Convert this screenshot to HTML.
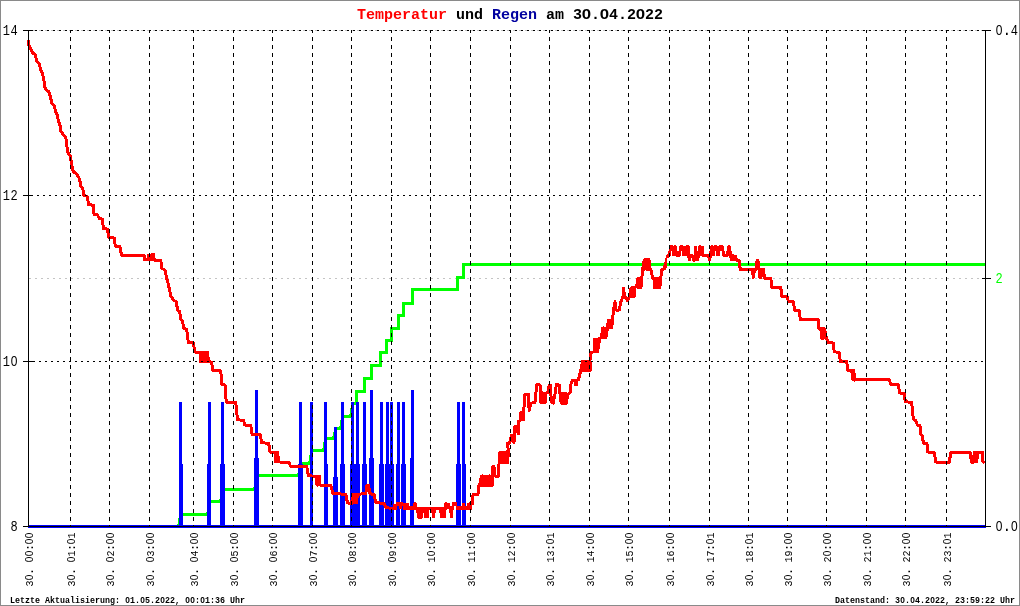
<!DOCTYPE html>
<html><head><meta charset="utf-8"><title>Temperatur und Regen am 30.04.2022</title>
<style>
html,body{margin:0;padding:0;background:#fff;}
body{width:1020px;height:606px;overflow:hidden;position:relative;font-family:"Liberation Mono",monospace;}
#chart{position:absolute;left:0;top:0;width:1020px;height:606px;box-sizing:border-box;border:1px solid #8a8a8a;background:#fff;}
svg{position:absolute;left:0;top:0;}
text{font-family:"Liberation Mono",monospace;}
svg,.title,.foot{will-change:transform;}
.title{position:absolute;left:357px;top:4px;width:306px;font:bold 15px/20px "Liberation Mono",monospace;white-space:pre;color:#000;letter-spacing:0;}
.foot{position:absolute;top:594px;font:bold 8.33px/10px "Liberation Mono",monospace;white-space:pre;color:#000;transform-origin:0 0;transform:scaleY(1.15);}
.z{font-family:"Liberation Sans",sans-serif;display:inline-block;text-align:center;}
.title .z{width:9px;transform:scaleX(1.12);}
.foot .z{width:5px;}
</style></head><body>
<div id="chart"></div>
<svg width="1020" height="606" viewBox="0 0 1020 606">
<g shape-rendering="crispEdges" fill="none">
<line x1="29" y1="278.5" x2="982" y2="278.5" stroke="#c4c4c4" stroke-width="1" stroke-dasharray="2 4" stroke-dashoffset="0"/>
<line x1="29" y1="30.5" x2="985" y2="30.5" stroke="#c4c4c4" stroke-width="1" stroke-dasharray="2 4" stroke-dashoffset="-4"/>
</g>
<polyline points="28,526.5 178.5,526.5 179.7,521.1 180.5,514.5 207.5,514.5 208.7,508.65 209.5,501.5 220.5,501.5 221.7,496.1 222.5,489.5 254.5,489.5 255.7,483.2 256.5,475.5 298.5,475.5 299.7,470.1 300.5,463.5 309.5,463.5 310.7,457.65 311.5,450.5 323.5,450.5 324.7,445.1 325.5,438.5 333.5,438.5 334.7,434 335.5,428.5 340.5,428.5 341.7,423.1 342.5,416.5 350.5,416.5 351.7,410.65 352.5,403.5 356,403.5 356,391.2 364.2,391.2 364.2,378 371,378 371,365 380.8,365 380.8,352.5 386.7,352.5 386.7,340.3 391.7,340.3 391.7,328 398,328 398,315.3 403,315.3 403,303.3 412,303.3 412,289.5 457.5,289.5 457.5,277.5 463.7,277.5 463.7,264.5 985,264.5" fill="none" stroke="#00ff00" stroke-width="3" stroke-linejoin="miter" shape-rendering="crispEdges"/>
<g fill="#0000ff" shape-rendering="crispEdges">
<rect x="28" y="525" width="958" height="3"/>
<rect x="179" y="402" width="3" height="124"/>
<rect x="179" y="464" width="4" height="62"/>
<rect x="208" y="402" width="3" height="124"/>
<rect x="207" y="464" width="4" height="62"/>
<rect x="221" y="402" width="3" height="124"/>
<rect x="220" y="464" width="5" height="62"/>
<rect x="255" y="390" width="3" height="136"/>
<rect x="254" y="458" width="5" height="68"/>
<rect x="299" y="402" width="3" height="124"/>
<rect x="298" y="464" width="5" height="62"/>
<rect x="310" y="402" width="3" height="124"/>
<rect x="310" y="464" width="3" height="62"/>
<rect x="324" y="402" width="3" height="124"/>
<rect x="324" y="464" width="4" height="62"/>
<rect x="334" y="427" width="3" height="99"/>
<rect x="333" y="477" width="5" height="49"/>
<rect x="341" y="402" width="3" height="124"/>
<rect x="340" y="464" width="5" height="62"/>
<rect x="351" y="402" width="3" height="124"/>
<rect x="350" y="464" width="5" height="62"/>
<rect x="356" y="402" width="3" height="124"/>
<rect x="355" y="464" width="5" height="62"/>
<rect x="363" y="402" width="3" height="124"/>
<rect x="362" y="464" width="5" height="62"/>
<rect x="370" y="390" width="3" height="136"/>
<rect x="369" y="458" width="5" height="68"/>
<rect x="380" y="402" width="3" height="124"/>
<rect x="379" y="464" width="5" height="62"/>
<rect x="386" y="402" width="3" height="124"/>
<rect x="385" y="464" width="5" height="62"/>
<rect x="390" y="402" width="3" height="124"/>
<rect x="389" y="464" width="5" height="62"/>
<rect x="397" y="402" width="3" height="124"/>
<rect x="396" y="464" width="4" height="62"/>
<rect x="402" y="402" width="3" height="124"/>
<rect x="401" y="464" width="5" height="62"/>
<rect x="411" y="390" width="3" height="136"/>
<rect x="410" y="458" width="4" height="68"/>
<rect x="457" y="402" width="3" height="124"/>
<rect x="456" y="464" width="5" height="62"/>
<rect x="462" y="402" width="3" height="124"/>
<rect x="462" y="464" width="4" height="62"/>
</g>
<polyline points="28,40 28.3,44.5 30.3,48.3 32.5,52.5 35.3,55 36.7,60.8 39.2,63.7 40.8,70 42.5,73.3 43.8,80 45.3,89.2 48.7,91.7 50.5,96.7 51.7,103.3 54.5,106.3 55.5,111.7 57.5,115 58.3,121.7 59.7,123.3 60.8,130.8 63.3,135 65.8,137.5 66.7,145 68.3,154.2 70.3,155.8 71.7,165 73.3,171.7 76.7,174.2 79.7,179.2 80.8,186.7 82.8,188.3 83.7,195 87.5,196.7 88.5,204.5 93.3,205.3 94,214.3 97.5,215 99.2,218.5 102.5,219.2 103.3,228.3 107.5,229.2 108.7,237.5 114.2,238 115.3,246 120,246.7 121.5,255.3 144.2,255.3 144.5,259.5 148,259.5 148.5,255.3 150,255.3 150.3,259.5 151.5,259.5 152,254.5 153.5,254.5 154.2,260 160.8,260.3 161.7,268.3 165,270 166.7,278.3 168,283 169.2,288.3 170.8,295.8 173.3,300 176.3,301.7 177.5,310 179.7,311.7 180.8,319.2 182.5,320.8 183.8,328.3 186.7,329.2 188.3,342.5 193.3,343 195,352 200,352.5 200.5,361.5 201.5,352.5 202.5,361.5 203.5,352.5 204.5,361.5 205.5,352.5 206.5,361.5 207.5,352.5 208.5,361.5 210,361.7 211.7,362.5 212.8,370.3 220.8,370.8 221.7,384.2 225,385 226.2,402 235.8,402.5 237.5,419.7 243.7,420.5 244.7,425 250.8,425.3 252,434.2 260.3,434.7 261.7,442.8 268.7,443.3 270,452 275,452.5 275.5,462 276.25,452.5 277,462 277.75,452.5 278.5,462 279.2,462 289,462.3 290.5,466.3 306.7,466.7 308.5,475.8 315.8,476.3 317,485 318,485 318.5,476.3 319.5,476.3 320,485 330.8,485.3 333,493.7 345.8,494.2 347.5,503 351.7,503.3 352.5,494.5 353.3,503 354.1,494.5 354.9,503 355.7,494.5 356.5,503 357.5,494.2 365.8,493.7 367,485.5 368.5,485.5 370,493.7 374.2,494.5 375.8,502.7 384.2,503.3 385.8,507.7 390.8,508.2 392,508.2" fill="none" stroke="#ff0000" stroke-width="3" stroke-linejoin="round" shape-rendering="crispEdges"/>
<polyline points="472.5,499 473.2,494.3 478,494.3 479,484.7 480.5,484.7 481.2,476 481.5,485.4 482.4,476 483.3,485.4 484.2,476 485.1,485.4 486,476 486.9,485.4 487.8,476 488.7,485.4 489.6,476 490.5,485.4 491.4,476 492.3,485.4 492.8,466.7 494,466.7 494.6,476 498.5,476 499.2,459.4 500,452 500.3,462.7 501.2,452 502.1,462.7 503,452 503.9,462.7 504.8,452 505.7,462.7 506.6,452 507.5,462.7 508.4,452 507.5,443.3 509.5,443.3 511.7,435 513,435 514,443 514.7,426.7 516.5,426.7 518.3,434 518.3,421.7 520.8,420 520.8,412.5 523.3,412.5 523.3,420 524.2,403.3 525,394.2 528.3,394.2 529.2,410.8 530.8,403.3 535,402.5 535.8,394.2 536.7,384.5 540,385 540.8,402.5 541,393 541.8,403 542.6,393 543.4,403 544.2,393 545,403 545.8,393.3 548.3,392.5 549.2,385 550.5,385 551.3,401.7 553.3,403 555,394 556.3,384.5 559.2,385 560.8,401.7 561,393.3 561.8,403.3 562.6,393.3 563.4,403.3 564.2,393.3 565,403.3 565.8,393.3 566.6,403.3 567.5,394.2 570,393 570.8,385 572,380.8 575,380 575.5,384.5 576.5,384.5 577,380 578.3,380 579.7,375 580.8,370 582.5,361.7 582.8,370.8 583.7,361.7 584.6,370.8 585.5,361.7 586.4,370.8 587.3,361.7 588.2,370.8 589.1,361.7 590,370.8 590,360.8 590.3,352.5 594.2,351.7 594.7,339.2 595,351.7 595.7,339.2 596.4,351.7 597.1,339.2 597.5,351.7 599.7,338.3 601.7,336.7 602.5,328.3 602.8,337.5 603.6,328 604.4,337.5 605.2,328 606,337.5 607.5,327.5 608.3,320 608.5,328 609.3,320 610.1,328 610.9,320 611.7,328 612.5,320 613.3,311.7 615,301.7 615.8,310 619.2,310 620.8,301.7 623,296.7 623.3,288 625,296.7 627.5,300.8 630,295 630.8,288.3 631,296.7 631.8,287.5 632.6,296.7 633.4,287.5 634.2,296.7 635,287.5 636.7,286.7 637.5,279.2 637.8,287.5 638.6,278.3 639.4,287.5 640.2,278.3 641,287.5 641.8,278.3 642.5,270 644.2,260 644.5,269.2 645.4,259.7 646.3,269.2 647.2,259.7 648.1,269.2 649,259.7 649.9,269.2 650.8,269.2 652.5,277.5 654.2,279.2 654.5,287.5 655.4,278.3 656.3,287.5 657.2,278.3 658.1,287.5 659,278.3 659.9,287.5 660.8,278.3 661.7,270 664.5,268.5 665.5,262" fill="none" stroke="#ff0000" stroke-width="3" stroke-linejoin="round" shape-rendering="crispEdges"/>
<polyline points="739.5,262 740.3,269.2 752.5,269.7 753.3,277.5 754.5,269.5 756,269.5 757,260.8 758,260.8 759.2,269.2 760,277.5 761,277.5 761.7,269.2 763.3,269.2 764.7,278.3 770.8,278.7 772,287.5 780.8,287.5 781.7,296.3 787,296.7 788.3,301.2 793.3,301.7 794.7,310.3 799.2,310.8 800.3,319.5 818.3,319.5 818.7,328.3 820.8,328.3 821.8,338.3 822.6,328.3 823.4,338.3 824.2,328.3 826.7,338.7 828.3,342.5 833.3,343 834.2,351.7 839.2,352.5 840.3,361.3 846.7,361.3 847.8,370.3 851.7,370.3 853,380 853.8,370.3 854.6,380 855.8,379.5 889.2,379.5 890.8,384.5 898.3,384.7 899.7,393 904.2,393.3 905.3,401.7 911.7,402.5 913.3,419.2 915.8,420.8 917.5,425 920,425.8 920.8,434.2 922.5,435.8 923.3,443 927,443.7 927.5,452 934.2,452.5 935.8,462 949.2,462.5 950.8,452.5 970,452.5 971.7,462.5 973.5,462 974.2,452.5 975,452.5 975.8,461.7 976.8,461.7 977.5,452.5 982.5,452.5 982.8,461.7 984.7,462.5" fill="none" stroke="#ff0000" stroke-width="3" stroke-linejoin="round" shape-rendering="crispEdges"/>
<g fill="#ff0000" shape-rendering="crispEdges">
<rect x="390" y="507" width="4" height="3"/>
<rect x="393" y="504" width="3" height="6"/>
<rect x="396" y="502" width="1" height="8"/>
<rect x="397" y="502" width="2" height="4"/>
<rect x="399" y="502" width="3" height="7"/>
<rect x="402" y="502" width="1" height="4"/>
<rect x="403" y="503" width="6" height="7"/>
<rect x="409" y="506" width="4" height="4"/>
<rect x="413" y="503" width="1" height="7"/>
<rect x="414" y="502" width="2" height="8"/>
<rect x="416" y="503" width="1" height="7"/>
<rect x="417" y="507" width="29" height="3"/>
<rect x="416" y="507" width="1" height="6"/>
<rect x="417" y="507" width="6" height="11"/>
<rect x="418" y="507" width="4" height="12"/>
<rect x="423" y="507" width="1" height="6"/>
<rect x="424" y="507" width="5" height="11"/>
<rect x="431" y="507" width="1" height="6"/>
<rect x="432" y="507" width="3" height="11"/>
<rect x="435" y="507" width="1" height="6"/>
<rect x="439" y="507" width="1" height="6"/>
<rect x="440" y="507" width="6" height="11"/>
<rect x="444" y="503" width="1" height="7"/>
<rect x="445" y="502" width="2" height="8"/>
<rect x="447" y="503" width="3" height="6"/>
<rect x="449" y="507" width="1" height="6"/>
<rect x="450" y="506" width="3" height="12"/>
<rect x="452" y="502" width="5" height="4"/>
<rect x="452" y="502" width="2" height="8"/>
<rect x="456" y="506" width="16" height="4"/>
<rect x="462" y="503" width="3" height="7"/>
<rect x="467" y="503" width="2" height="7"/>
<rect x="469" y="502" width="3" height="8"/>
<rect x="471" y="498" width="3" height="7"/>
<rect x="665" y="258" width="1" height="12"/>
<rect x="666" y="255" width="1" height="13"/>
<rect x="667" y="254" width="1" height="4"/>
<rect x="668" y="251" width="1" height="7"/>
<rect x="669" y="249" width="1" height="8"/>
<rect x="670" y="245" width="1" height="11"/>
<rect x="671" y="245" width="1" height="6"/>
<rect x="672" y="245" width="1" height="11"/>
<rect x="673" y="246" width="1" height="10"/>
<rect x="674" y="245" width="1" height="11"/>
<rect x="675" y="245" width="1" height="11"/>
<rect x="676" y="246" width="1" height="11"/>
<rect x="677" y="251" width="1" height="6"/>
<rect x="678" y="251" width="1" height="6"/>
<rect x="679" y="246" width="1" height="11"/>
<rect x="680" y="245" width="1" height="11"/>
<rect x="681" y="245" width="1" height="6"/>
<rect x="682" y="245" width="1" height="11"/>
<rect x="683" y="246" width="1" height="10"/>
<rect x="684" y="246" width="1" height="10"/>
<rect x="685" y="246" width="1" height="10"/>
<rect x="686" y="245" width="1" height="11"/>
<rect x="687" y="245" width="1" height="13"/>
<rect x="688" y="245" width="1" height="16"/>
<rect x="689" y="246" width="1" height="15"/>
<rect x="690" y="254" width="1" height="7"/>
<rect x="691" y="254" width="1" height="4"/>
<rect x="692" y="254" width="1" height="7"/>
<rect x="693" y="255" width="1" height="7"/>
<rect x="694" y="246" width="1" height="16"/>
<rect x="695" y="246" width="1" height="15"/>
<rect x="696" y="246" width="1" height="15"/>
<rect x="697" y="251" width="1" height="10"/>
<rect x="698" y="246" width="1" height="15"/>
<rect x="699" y="245" width="1" height="13"/>
<rect x="700" y="245" width="1" height="11"/>
<rect x="701" y="246" width="1" height="10"/>
<rect x="702" y="246" width="1" height="11"/>
<rect x="703" y="246" width="1" height="11"/>
<rect x="704" y="254" width="1" height="3"/>
<rect x="705" y="254" width="1" height="3"/>
<rect x="706" y="254" width="1" height="3"/>
<rect x="707" y="254" width="1" height="4"/>
<rect x="708" y="254" width="1" height="7"/>
<rect x="709" y="251" width="1" height="10"/>
<rect x="710" y="246" width="1" height="15"/>
<rect x="711" y="245" width="1" height="13"/>
<rect x="712" y="245" width="1" height="11"/>
<rect x="713" y="246" width="1" height="10"/>
<rect x="714" y="245" width="1" height="11"/>
<rect x="715" y="245" width="1" height="6"/>
<rect x="716" y="245" width="1" height="11"/>
<rect x="717" y="246" width="1" height="10"/>
<rect x="718" y="246" width="1" height="10"/>
<rect x="719" y="245" width="1" height="11"/>
<rect x="720" y="245" width="1" height="6"/>
<rect x="721" y="245" width="1" height="6"/>
<rect x="722" y="245" width="1" height="11"/>
<rect x="723" y="246" width="1" height="11"/>
<rect x="724" y="251" width="1" height="6"/>
<rect x="725" y="254" width="1" height="3"/>
<rect x="726" y="251" width="1" height="6"/>
<rect x="727" y="246" width="1" height="11"/>
<rect x="728" y="245" width="1" height="11"/>
<rect x="729" y="245" width="1" height="13"/>
<rect x="730" y="246" width="1" height="15"/>
<rect x="731" y="251" width="1" height="10"/>
<rect x="732" y="254" width="1" height="7"/>
<rect x="733" y="254" width="1" height="7"/>
<rect x="734" y="255" width="1" height="6"/>
<rect x="735" y="255" width="1" height="6"/>
<rect x="736" y="255" width="1" height="7"/>
<rect x="737" y="258" width="1" height="4"/>
<rect x="738" y="259" width="1" height="9"/>
<rect x="739" y="259" width="1" height="12"/>
<rect x="740" y="260" width="1" height="11"/>
</g>
<g shape-rendering="crispEdges" fill="none" stroke="#000" stroke-width="1">
<line x1="70.5" y1="30" x2="70.5" y2="526" stroke-dasharray="4 4" stroke-dashoffset="1"/>
<line x1="109.5" y1="30" x2="109.5" y2="526" stroke-dasharray="4 4" stroke-dashoffset="1"/>
<line x1="149.5" y1="30" x2="149.5" y2="526" stroke-dasharray="4 4" stroke-dashoffset="1"/>
<line x1="193.5" y1="30" x2="193.5" y2="526" stroke-dasharray="4 4" stroke-dashoffset="1"/>
<line x1="233.5" y1="30" x2="233.5" y2="526" stroke-dasharray="4 4" stroke-dashoffset="1"/>
<line x1="272.5" y1="30" x2="272.5" y2="526" stroke-dasharray="4 4" stroke-dashoffset="1"/>
<line x1="312.5" y1="30" x2="312.5" y2="526" stroke-dasharray="4 4" stroke-dashoffset="1"/>
<line x1="351.5" y1="30" x2="351.5" y2="526" stroke-dasharray="4 4" stroke-dashoffset="1"/>
<line x1="391.5" y1="30" x2="391.5" y2="526" stroke-dasharray="4 4" stroke-dashoffset="1"/>
<line x1="430.5" y1="30" x2="430.5" y2="526" stroke-dasharray="4 4" stroke-dashoffset="1"/>
<line x1="470.5" y1="30" x2="470.5" y2="526" stroke-dasharray="4 4" stroke-dashoffset="1"/>
<line x1="510.5" y1="30" x2="510.5" y2="526" stroke-dasharray="4 4" stroke-dashoffset="1"/>
<line x1="549.5" y1="30" x2="549.5" y2="526" stroke-dasharray="4 4" stroke-dashoffset="1"/>
<line x1="589.5" y1="30" x2="589.5" y2="526" stroke-dasharray="4 4" stroke-dashoffset="1"/>
<line x1="628.5" y1="30" x2="628.5" y2="526" stroke-dasharray="4 4" stroke-dashoffset="1"/>
<line x1="669.5" y1="30" x2="669.5" y2="526" stroke-dasharray="4 4" stroke-dashoffset="1"/>
<line x1="709.5" y1="30" x2="709.5" y2="526" stroke-dasharray="4 4" stroke-dashoffset="1"/>
<line x1="748.5" y1="30" x2="748.5" y2="526" stroke-dasharray="4 4" stroke-dashoffset="1"/>
<line x1="787.5" y1="30" x2="787.5" y2="526" stroke-dasharray="4 4" stroke-dashoffset="1"/>
<line x1="826.5" y1="30" x2="826.5" y2="526" stroke-dasharray="4 4" stroke-dashoffset="1"/>
<line x1="866.5" y1="30" x2="866.5" y2="526" stroke-dasharray="4 4" stroke-dashoffset="1"/>
<line x1="905.5" y1="30" x2="905.5" y2="526" stroke-dasharray="4 4" stroke-dashoffset="1"/>
<line x1="946.5" y1="30" x2="946.5" y2="526" stroke-dasharray="4 4" stroke-dashoffset="1"/>
<line x1="29" y1="30.5" x2="985" y2="30.5" stroke-dasharray="2 4" stroke-dashoffset="0"/>
<line x1="29" y1="195.5" x2="985" y2="195.5" stroke-dasharray="2 4" stroke-dashoffset="-2"/>
<line x1="29" y1="361.5" x2="985" y2="361.5" stroke-dasharray="2 4" stroke-dashoffset="-4"/>
<line x1="28.5" y1="30" x2="28.5" y2="527"/>
<line x1="985.5" y1="30" x2="985.5" y2="527"/>
<line x1="28" y1="526.5" x2="986" y2="526.5"/>
<line x1="23" y1="30.5" x2="33" y2="30.5"/>
<line x1="23" y1="195.5" x2="33" y2="195.5"/>
<line x1="23" y1="361.5" x2="33" y2="361.5"/>
<line x1="23" y1="526.5" x2="33" y2="526.5"/>
<line x1="982" y1="30.5" x2="991" y2="30.5"/>
<line x1="982" y1="278.5" x2="991" y2="278.5"/>
<line x1="982" y1="526.5" x2="991" y2="526.5"/>
</g>
<text transform="translate(17.9,35) scale(1,1.26)" font-size="12" text-anchor="middle" fill="#000"><tspan x="-11.55">1</tspan><tspan x="-3.85">4</tspan></text>
<text transform="translate(17.9,200) scale(1,1.26)" font-size="12" text-anchor="middle" fill="#000"><tspan x="-11.55">1</tspan><tspan x="-3.85">2</tspan></text>
<text transform="translate(17.9,366) scale(1,1.26)" font-size="12" text-anchor="middle" fill="#000"><tspan x="-11.55">1</tspan><tspan x="-3.85" font-family="Liberation Sans">0</tspan></text>
<text transform="translate(17.9,531) scale(1,1.26)" font-size="12" text-anchor="middle" fill="#000"><tspan x="-3.85">8</tspan></text>
<text transform="translate(995.2,35) scale(1,1.26)" font-size="12" text-anchor="middle" fill="#000"><tspan x="3.85" font-family="Liberation Sans">0</tspan><tspan x="11.55" font-weight="bold">.</tspan><tspan x="19.25">4</tspan></text>
<text transform="translate(995.2,531) scale(1,1.26)" font-size="12" text-anchor="middle" fill="#000"><tspan x="3.85" font-family="Liberation Sans">0</tspan><tspan x="11.55" font-weight="bold">.</tspan><tspan x="19.25" font-family="Liberation Sans">0</tspan></text>
<text transform="translate(995.2,283) scale(1,1.26)" font-size="12" text-anchor="middle" fill="#00ff00"><tspan x="3.85">2</tspan></text>
<text transform="translate(33,586.5) rotate(-90) scale(1,1.1)" font-size="10" text-anchor="middle" fill="#000"><tspan x="3">3</tspan><tspan x="9" font-family="Liberation Sans">0</tspan><tspan x="15" font-weight="bold">.</tspan><tspan x="27" font-family="Liberation Sans">0</tspan><tspan x="33" font-family="Liberation Sans">0</tspan><tspan x="39" font-weight="bold">:</tspan><tspan x="45" font-family="Liberation Sans">0</tspan><tspan x="51" font-family="Liberation Sans">0</tspan></text>
<text transform="translate(75,586.5) rotate(-90) scale(1,1.1)" font-size="10" text-anchor="middle" fill="#000"><tspan x="3">3</tspan><tspan x="9" font-family="Liberation Sans">0</tspan><tspan x="15" font-weight="bold">.</tspan><tspan x="27" font-family="Liberation Sans">0</tspan><tspan x="33">1</tspan><tspan x="39" font-weight="bold">:</tspan><tspan x="45" font-family="Liberation Sans">0</tspan><tspan x="51">1</tspan></text>
<text transform="translate(114,586.5) rotate(-90) scale(1,1.1)" font-size="10" text-anchor="middle" fill="#000"><tspan x="3">3</tspan><tspan x="9" font-family="Liberation Sans">0</tspan><tspan x="15" font-weight="bold">.</tspan><tspan x="27" font-family="Liberation Sans">0</tspan><tspan x="33">2</tspan><tspan x="39" font-weight="bold">:</tspan><tspan x="45" font-family="Liberation Sans">0</tspan><tspan x="51" font-family="Liberation Sans">0</tspan></text>
<text transform="translate(154,586.5) rotate(-90) scale(1,1.1)" font-size="10" text-anchor="middle" fill="#000"><tspan x="3">3</tspan><tspan x="9" font-family="Liberation Sans">0</tspan><tspan x="15" font-weight="bold">.</tspan><tspan x="27" font-family="Liberation Sans">0</tspan><tspan x="33">3</tspan><tspan x="39" font-weight="bold">:</tspan><tspan x="45" font-family="Liberation Sans">0</tspan><tspan x="51" font-family="Liberation Sans">0</tspan></text>
<text transform="translate(198,586.5) rotate(-90) scale(1,1.1)" font-size="10" text-anchor="middle" fill="#000"><tspan x="3">3</tspan><tspan x="9" font-family="Liberation Sans">0</tspan><tspan x="15" font-weight="bold">.</tspan><tspan x="27" font-family="Liberation Sans">0</tspan><tspan x="33">4</tspan><tspan x="39" font-weight="bold">:</tspan><tspan x="45" font-family="Liberation Sans">0</tspan><tspan x="51" font-family="Liberation Sans">0</tspan></text>
<text transform="translate(238,586.5) rotate(-90) scale(1,1.1)" font-size="10" text-anchor="middle" fill="#000"><tspan x="3">3</tspan><tspan x="9" font-family="Liberation Sans">0</tspan><tspan x="15" font-weight="bold">.</tspan><tspan x="27" font-family="Liberation Sans">0</tspan><tspan x="33">5</tspan><tspan x="39" font-weight="bold">:</tspan><tspan x="45" font-family="Liberation Sans">0</tspan><tspan x="51" font-family="Liberation Sans">0</tspan></text>
<text transform="translate(277,586.5) rotate(-90) scale(1,1.1)" font-size="10" text-anchor="middle" fill="#000"><tspan x="3">3</tspan><tspan x="9" font-family="Liberation Sans">0</tspan><tspan x="15" font-weight="bold">.</tspan><tspan x="27" font-family="Liberation Sans">0</tspan><tspan x="33">6</tspan><tspan x="39" font-weight="bold">:</tspan><tspan x="45" font-family="Liberation Sans">0</tspan><tspan x="51" font-family="Liberation Sans">0</tspan></text>
<text transform="translate(317,586.5) rotate(-90) scale(1,1.1)" font-size="10" text-anchor="middle" fill="#000"><tspan x="3">3</tspan><tspan x="9" font-family="Liberation Sans">0</tspan><tspan x="15" font-weight="bold">.</tspan><tspan x="27" font-family="Liberation Sans">0</tspan><tspan x="33">7</tspan><tspan x="39" font-weight="bold">:</tspan><tspan x="45" font-family="Liberation Sans">0</tspan><tspan x="51" font-family="Liberation Sans">0</tspan></text>
<text transform="translate(356,586.5) rotate(-90) scale(1,1.1)" font-size="10" text-anchor="middle" fill="#000"><tspan x="3">3</tspan><tspan x="9" font-family="Liberation Sans">0</tspan><tspan x="15" font-weight="bold">.</tspan><tspan x="27" font-family="Liberation Sans">0</tspan><tspan x="33">8</tspan><tspan x="39" font-weight="bold">:</tspan><tspan x="45" font-family="Liberation Sans">0</tspan><tspan x="51" font-family="Liberation Sans">0</tspan></text>
<text transform="translate(396,586.5) rotate(-90) scale(1,1.1)" font-size="10" text-anchor="middle" fill="#000"><tspan x="3">3</tspan><tspan x="9" font-family="Liberation Sans">0</tspan><tspan x="15" font-weight="bold">.</tspan><tspan x="27" font-family="Liberation Sans">0</tspan><tspan x="33">9</tspan><tspan x="39" font-weight="bold">:</tspan><tspan x="45" font-family="Liberation Sans">0</tspan><tspan x="51" font-family="Liberation Sans">0</tspan></text>
<text transform="translate(435,586.5) rotate(-90) scale(1,1.1)" font-size="10" text-anchor="middle" fill="#000"><tspan x="3">3</tspan><tspan x="9" font-family="Liberation Sans">0</tspan><tspan x="15" font-weight="bold">.</tspan><tspan x="27">1</tspan><tspan x="33" font-family="Liberation Sans">0</tspan><tspan x="39" font-weight="bold">:</tspan><tspan x="45" font-family="Liberation Sans">0</tspan><tspan x="51" font-family="Liberation Sans">0</tspan></text>
<text transform="translate(475,586.5) rotate(-90) scale(1,1.1)" font-size="10" text-anchor="middle" fill="#000"><tspan x="3">3</tspan><tspan x="9" font-family="Liberation Sans">0</tspan><tspan x="15" font-weight="bold">.</tspan><tspan x="27">1</tspan><tspan x="33">1</tspan><tspan x="39" font-weight="bold">:</tspan><tspan x="45" font-family="Liberation Sans">0</tspan><tspan x="51" font-family="Liberation Sans">0</tspan></text>
<text transform="translate(515,586.5) rotate(-90) scale(1,1.1)" font-size="10" text-anchor="middle" fill="#000"><tspan x="3">3</tspan><tspan x="9" font-family="Liberation Sans">0</tspan><tspan x="15" font-weight="bold">.</tspan><tspan x="27">1</tspan><tspan x="33">2</tspan><tspan x="39" font-weight="bold">:</tspan><tspan x="45" font-family="Liberation Sans">0</tspan><tspan x="51" font-family="Liberation Sans">0</tspan></text>
<text transform="translate(554,586.5) rotate(-90) scale(1,1.1)" font-size="10" text-anchor="middle" fill="#000"><tspan x="3">3</tspan><tspan x="9" font-family="Liberation Sans">0</tspan><tspan x="15" font-weight="bold">.</tspan><tspan x="27">1</tspan><tspan x="33">3</tspan><tspan x="39" font-weight="bold">:</tspan><tspan x="45" font-family="Liberation Sans">0</tspan><tspan x="51">1</tspan></text>
<text transform="translate(594,586.5) rotate(-90) scale(1,1.1)" font-size="10" text-anchor="middle" fill="#000"><tspan x="3">3</tspan><tspan x="9" font-family="Liberation Sans">0</tspan><tspan x="15" font-weight="bold">.</tspan><tspan x="27">1</tspan><tspan x="33">4</tspan><tspan x="39" font-weight="bold">:</tspan><tspan x="45" font-family="Liberation Sans">0</tspan><tspan x="51" font-family="Liberation Sans">0</tspan></text>
<text transform="translate(633,586.5) rotate(-90) scale(1,1.1)" font-size="10" text-anchor="middle" fill="#000"><tspan x="3">3</tspan><tspan x="9" font-family="Liberation Sans">0</tspan><tspan x="15" font-weight="bold">.</tspan><tspan x="27">1</tspan><tspan x="33">5</tspan><tspan x="39" font-weight="bold">:</tspan><tspan x="45" font-family="Liberation Sans">0</tspan><tspan x="51" font-family="Liberation Sans">0</tspan></text>
<text transform="translate(674,586.5) rotate(-90) scale(1,1.1)" font-size="10" text-anchor="middle" fill="#000"><tspan x="3">3</tspan><tspan x="9" font-family="Liberation Sans">0</tspan><tspan x="15" font-weight="bold">.</tspan><tspan x="27">1</tspan><tspan x="33">6</tspan><tspan x="39" font-weight="bold">:</tspan><tspan x="45" font-family="Liberation Sans">0</tspan><tspan x="51" font-family="Liberation Sans">0</tspan></text>
<text transform="translate(714,586.5) rotate(-90) scale(1,1.1)" font-size="10" text-anchor="middle" fill="#000"><tspan x="3">3</tspan><tspan x="9" font-family="Liberation Sans">0</tspan><tspan x="15" font-weight="bold">.</tspan><tspan x="27">1</tspan><tspan x="33">7</tspan><tspan x="39" font-weight="bold">:</tspan><tspan x="45" font-family="Liberation Sans">0</tspan><tspan x="51">1</tspan></text>
<text transform="translate(753,586.5) rotate(-90) scale(1,1.1)" font-size="10" text-anchor="middle" fill="#000"><tspan x="3">3</tspan><tspan x="9" font-family="Liberation Sans">0</tspan><tspan x="15" font-weight="bold">.</tspan><tspan x="27">1</tspan><tspan x="33">8</tspan><tspan x="39" font-weight="bold">:</tspan><tspan x="45" font-family="Liberation Sans">0</tspan><tspan x="51">1</tspan></text>
<text transform="translate(792,586.5) rotate(-90) scale(1,1.1)" font-size="10" text-anchor="middle" fill="#000"><tspan x="3">3</tspan><tspan x="9" font-family="Liberation Sans">0</tspan><tspan x="15" font-weight="bold">.</tspan><tspan x="27">1</tspan><tspan x="33">9</tspan><tspan x="39" font-weight="bold">:</tspan><tspan x="45" font-family="Liberation Sans">0</tspan><tspan x="51" font-family="Liberation Sans">0</tspan></text>
<text transform="translate(831,586.5) rotate(-90) scale(1,1.1)" font-size="10" text-anchor="middle" fill="#000"><tspan x="3">3</tspan><tspan x="9" font-family="Liberation Sans">0</tspan><tspan x="15" font-weight="bold">.</tspan><tspan x="27">2</tspan><tspan x="33" font-family="Liberation Sans">0</tspan><tspan x="39" font-weight="bold">:</tspan><tspan x="45" font-family="Liberation Sans">0</tspan><tspan x="51" font-family="Liberation Sans">0</tspan></text>
<text transform="translate(871,586.5) rotate(-90) scale(1,1.1)" font-size="10" text-anchor="middle" fill="#000"><tspan x="3">3</tspan><tspan x="9" font-family="Liberation Sans">0</tspan><tspan x="15" font-weight="bold">.</tspan><tspan x="27">2</tspan><tspan x="33">1</tspan><tspan x="39" font-weight="bold">:</tspan><tspan x="45" font-family="Liberation Sans">0</tspan><tspan x="51" font-family="Liberation Sans">0</tspan></text>
<text transform="translate(910,586.5) rotate(-90) scale(1,1.1)" font-size="10" text-anchor="middle" fill="#000"><tspan x="3">3</tspan><tspan x="9" font-family="Liberation Sans">0</tspan><tspan x="15" font-weight="bold">.</tspan><tspan x="27">2</tspan><tspan x="33">2</tspan><tspan x="39" font-weight="bold">:</tspan><tspan x="45" font-family="Liberation Sans">0</tspan><tspan x="51" font-family="Liberation Sans">0</tspan></text>
<text transform="translate(951,586.5) rotate(-90) scale(1,1.1)" font-size="10" text-anchor="middle" fill="#000"><tspan x="3">3</tspan><tspan x="9" font-family="Liberation Sans">0</tspan><tspan x="15" font-weight="bold">.</tspan><tspan x="27">2</tspan><tspan x="33">3</tspan><tspan x="39" font-weight="bold">:</tspan><tspan x="45" font-family="Liberation Sans">0</tspan><tspan x="51">1</tspan></text>
</svg>
<div class="title"><span style="color:#ff0000">Temperatur</span> und <span style="color:#0000a0">Regen</span> am 3<span class="z">0</span>.<span class="z">0</span>4.2<span class="z">0</span>22</div>
<div class="foot" style="left:9.5px">Letzte Aktualisierung: <span class="z">0</span>1.<span class="z">0</span>5.2<span class="z">0</span>22, <span class="z">0</span><span class="z">0</span>:<span class="z">0</span>1:36 Uhr</div>
<div class="foot" style="left:834.5px">Datenstand: 3<span class="z">0</span>.<span class="z">0</span>4.2<span class="z">0</span>22, 23:59:22 Uhr</div>
</body></html>
